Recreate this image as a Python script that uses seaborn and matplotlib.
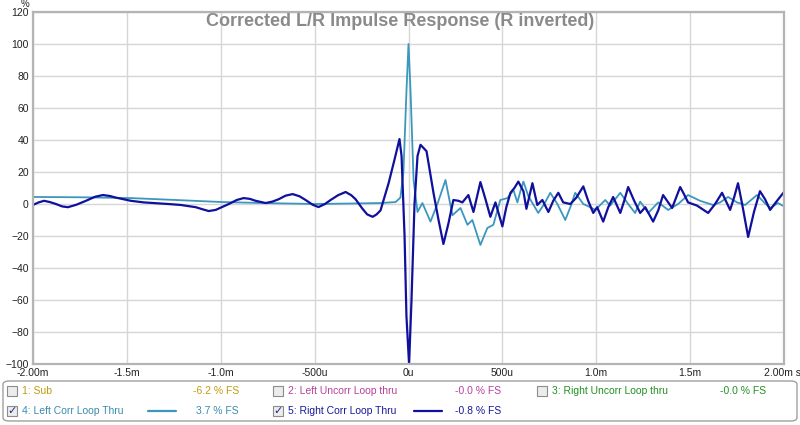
import numpy as np
import pandas as pd
import matplotlib
matplotlib.use('Agg')
import matplotlib.pyplot as plt
from matplotlib.patches import FancyBboxPatch, Rectangle
import seaborn as sns

# time in microseconds, value in %
right_t = [-2000, -1970, -1941, -1910, -1878, -1845, -1814, -1770, -1718,
           -1670, -1628, -1590, -1559, -1479, -1410, -1346, -1280,
           -1213, -1133, -1100, -1064, -1027, -995, -957, -915, -878, -845,
           -814, -761, -725, -691, -655, -617, -580, -548, -510, -479,
           -445, -415, -375, -335, -305, -282, -245, -220, -191, -170,
           -149, -106, -74, -48,
           -37, -21, -11, 3, 16, 32, 48, 64, 96, 133, 160, 186, 213, 239,
           266, 287, 319, 346, 383, 410, 436, 463, 500, 521, 543, 564, 585,
           612, 628, 660, 686, 713, 745, 771, 798, 824, 862, 894, 931, 957,
           984, 1005, 1037, 1064, 1090, 1128, 1149, 1170, 1202, 1234, 1261,
           1303, 1330, 1356, 1404, 1447, 1468, 1489, 1537, 1596, 1633, 1670,
           1713, 1734, 1755, 1777, 1809, 1840, 1872, 1899, 1926, 1963, 2000]
right_v = [-0.6, 1, 2, 1.2, 0, -1.5, -2, -0.5, 2,
           4.5, 5.6, 5, 4, 2, 1, 0.5, 0,
           -0.6, -2, -3.2, -4.4, -3.7, -2, 0, 2.5, 3.7, 3.2,
           2, 0.6, 1.5, 3, 5.2, 6.2, 4.8, 2.5, -0.5, -1.9,
           0, 2.5, 5.5, 7.5, 5.5, 3, -3, -6.5, -8, -6.5,
           -4, 13, 28, 40.6,
           30, -20, -70, -100, -60, 0, 30, 37, 33, 7, -10, -25, -12, 2.5,
           2, 1, 5.6, -5, 13.7, 3, -8, 1, -14, -2, 7, 10, 14,
           8, -3, 13, -0.6, 2.5, -5, 2, 7, 1, 0, 4, 11, 2,
           -5.6, -2, -11, -2, 4.4, -5.6, 2, 10.6, 2, -5.6, -2,
           -11, -4, 5.6, -2.5, 10.6, 6, 1, -1, -5.6, 0, 7,
           -3.7, 4, 13, 0, -20.6, -5, 8, 3, -3.7, 2, 7.5]

left_t = [-2000, -1745, -1479, -1239, -989, -734, -495, -309, -149, -69,
          -43, -27, -11, 0, 11, 27, 48, 74, 117, 154, 197, 234, 277, 314,
          340, 383, 420, 452, 489, 527, 559, 580, 596, 612, 638, 691, 723,
          755, 793, 835, 862, 888, 931, 968, 995, 1048, 1074, 1128, 1170,
          1207, 1234, 1277, 1330, 1383, 1436, 1489, 1553, 1622, 1660, 1702,
          1750, 1793, 1856, 1894, 1926, 1968, 2000]
left_v = [4.4, 4.2, 3.7, 2.5, 1.2, 0.5, 0, 0.3, 0.6, 1.2,
          4, 20, 70, 100, 70, 15, -5, 0.6, -11, 0, 15, -7, -2.5, -13,
          -10, -25.6, -15, -13, 2.5, 3.7, 8.7, 1, 8, 14, 5, -5.6, 0,
          7, 0, -10, -2, 7, 0, -2, -3.7, 2.5, -1, 7, 0,
          -5.6, 1.5, -5.6, 1, -3.7, 0, 5.6, 2, -0.6, 1, 4.4,
          1, -0.6, 5.6, 1, -2.5, 0.6, -1.5]

x_ticks = [-2000, -1500, -1000, -500, 0, 500, 1000, 1500, 2000]
x_labels = ['-2.00m', '-1.5m', '-1.0m', '-500u', '0u', '500u', '1.0m',
            '1.5m', '']
y_ticks = list(range(-100, 121, 20))

left_color = '#3b97bd'
right_color = '#10109c'

sns.set_theme(style='white')
plt.rcParams['font.family'] = ['Liberation Sans', 'DejaVu Sans']

W, H = 800, 425
fig = plt.figure(figsize=(8, 4.25), dpi=100)
ax = fig.add_axes([33 / W, 1 - 364 / H, (784 - 33) / W, (364 - 12) / H])

df_left = pd.DataFrame({'t': left_t, 'v': left_v})
df_right = pd.DataFrame({'t': right_t, 'v': right_v})
sns.lineplot(data=df_left, x='t', y='v', ax=ax, color=left_color,
             linewidth=1.3, estimator=None, sort=False)
sns.lineplot(data=df_right, x='t', y='v', ax=ax, color=right_color,
             linewidth=1.6, estimator=None, sort=False)

ax.set_xlim(-2000, 2000)
ax.set_ylim(-100, 120)
ax.set_xticks(x_ticks)
ax.set_xticklabels(x_labels)
ax.set_yticks(y_ticks)
ax.set_xlabel('')
ax.set_ylabel('')
ax.tick_params(length=0, labelsize=7.5, colors='#222222', pad=3)
ax.grid(True, color='#d6d6d6', linewidth=1)
for s in ax.spines.values():
    s.set_color('#b4b4b4')
    s.set_linewidth(1.6)

# last x label carries the unit
fig.text(782 / W, 1 - 373 / H, '2.00m s', ha='center', va='center',
         fontsize=7.5, color='#222222')
fig.text(400 / W, 1 - 22 / H, 'Corrected L/R Impulse Response (R inverted)',
         ha='center', va='center', fontsize=13, fontweight='bold',
         color='#8a8a8a')
fig.text(25 / W, 1 - 4 / H, '%', ha='center', va='center', fontsize=7,
         color='#222222')

# legend panel
box = FancyBboxPatch((3 / W, 1 - 421 / H), 794 / W, 40 / H,
                     boxstyle='round,pad=0,rounding_size=0.008',
                     transform=fig.transFigure, facecolor='white',
                     edgecolor='#a0a0a0', linewidth=1)
fig.patches.append(box)

entries = [
    (12, 391, False, '1: Sub', '#c09a10', None, 193, '-6.2 % FS'),
    (278, 391, False, '2: Left Uncorr Loop thru', '#b8409a', None, 455,
     '-0.0 % FS'),
    (542, 391, False, '3: Right Uncorr Loop thru', '#229022', None, 720,
     '-0.0 % FS'),
    (12, 411, True, '4: Left Corr Loop Thru', '#3a8ab0', left_color, 196,
     '3.7 % FS'),
    (278, 411, True, '5: Right Corr Loop Thru', '#18189a', right_color, 455,
     '-0.8 % FS'),
]
for cx, cy, checked, name, col, lcol, vx, val in entries:
    sq = Rectangle(((cx - 5) / W, 1 - (cy + 5) / H), 10 / W, 10 / H,
                   transform=fig.transFigure, facecolor='#ececec',
                   edgecolor='#8c8c8c', linewidth=0.8)
    fig.patches.append(sq)
    if checked:
        fig.text(cx / W, 1 - cy / H, '\u2713', ha='center', va='center',
                 fontsize=8, color='#1c2c8c', fontweight='bold',
                 family='DejaVu Sans')
    fig.text((cx + 10) / W, 1 - cy / H, name, ha='left', va='center',
             fontsize=7.5, color=col)
    fig.text(vx / W, 1 - cy / H, val, ha='left', va='center',
             fontsize=7.5, color=col)
    if lcol is not None:
        fig.add_artist(plt.Line2D([(cx + 136) / W, (cx + 164) / W],
                                  [1 - cy / H, 1 - cy / H],
                                  transform=fig.transFigure, color=lcol,
                                  linewidth=1.6))

fig.savefig('out.png', dpi=100)
